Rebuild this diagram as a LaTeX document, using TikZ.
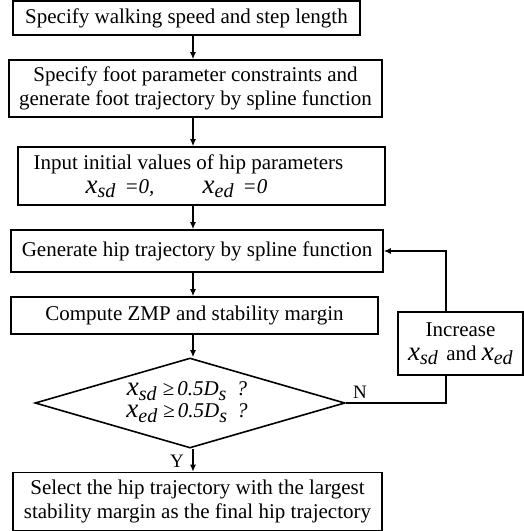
\documentclass[tikz,border=0pt]{standalone}
\usepackage{fontspec}
\setmainfont{Liberation Serif}
\usetikzlibrary{arrows.meta,shapes.geometric}
\newcommand{\bigx}{{\fontsize{27}{27}\selectfont\textit{x}}}
\newcommand{\subs}[1]{\raisebox{-4.5pt}{\fontsize{20}{20}\selectfont\textit{#1}}}
\newcommand{\xv}[1]{\bigx\subs{#1}}
\newcommand{\tightlines}{\lineskiplimit=-20pt\relax}
\begin{document}
\begin{tikzpicture}[x=1pt,y=-1pt,
  box/.style={draw, line width=1.6pt, rectangle, inner sep=0pt, align=center, font=\fontsize{21}{24}\selectfont\tightlines},
  arr/.style={line width=1.3pt, -{Latex[length=7pt,width=6pt]}},
  lbl/.style={font=\fontsize{19}{22}\selectfont, inner sep=0pt}]
\useasboundingbox (0,0) rectangle (524,531);
\coordinate (xa) at (193,0);
\coordinate (fb) at (446,0);
\node[box, minimum width=347pt, minimum height=34pt] (b1) at (186.5,18) {Specify walking speed and step length};
\node[box, minimum width=373pt, minimum height=57pt] (b2) at (195.5,88.5) {Specify foot parameter constraints and\\generate foot trajectory by spline function};
\node[box, minimum width=367pt, minimum height=58pt] (b3) at (201.5,176) {Input initial values of hip parameters\makebox[26pt]{}\\\xv{sd}\hspace{9pt}\textit{=0,}\hspace{2.3em}\xv{ed}\hspace{9pt}\textit{=0}\makebox[50pt]{}};
\node[box, minimum width=372pt, minimum height=42pt] (b4) at (197,251) {Generate hip trajectory by spline function};
\node[box, minimum width=367pt, minimum height=37pt] (b5) at (194.5,315.5) {Compute ZMP and stability margin};
\node[diamond, draw, line width=1.6pt, minimum width=310pt, minimum height=90pt, inner sep=0pt] (dec) at (190,403) {};
\node[align=center, inner sep=0pt, font=\fontsize{21}{22}\selectfont\tightlines] (dect) at (187,402) {\xv{sd}\hspace{6pt}≥\hspace{3pt}\textit{0.5D}\subs{s}\hspace{10pt}\textit{?}\\\xv{ed}\hspace{6pt}≥\hspace{3pt}\textit{0.5D}\subs{s}\hspace{10pt}\textit{?}};
\node[box, minimum width=369pt, minimum height=58pt] (b6) at (197.5,501.5) {Select the hip trajectory with the largest\\stability margin as the final hip trajectory};
\node[box, minimum width=125pt, minimum height=63pt] (b7) at (460.5,343.5) {Increase\\\xv{sd}\hspace{3pt} and \xv{ed}};
\node[lbl] (ln) at (360,392) {N};
\node[lbl] (ly) at (177,461) {Y};
\draw[arr] (b1.south -| xa) -- (b2.north -| xa);
\draw[arr] (b2.south -| xa) -- (b3.north -| xa);
\draw[arr] (b3.south -| xa) -- (b4.north -| xa);
\draw[arr] (b4.south -| xa) -- (b5.north -| xa);
\draw[arr] (b5.south -| xa) -- (dec.north -| xa);
\draw[arr] (dec.south -| xa) -- (b6.north -| xa);
\draw[line width=1.3pt] (dec.east) -| (b7.south -| fb);
\draw[arr] (b7.north -| fb) |- (b4.east);
\end{tikzpicture}
\end{document}
